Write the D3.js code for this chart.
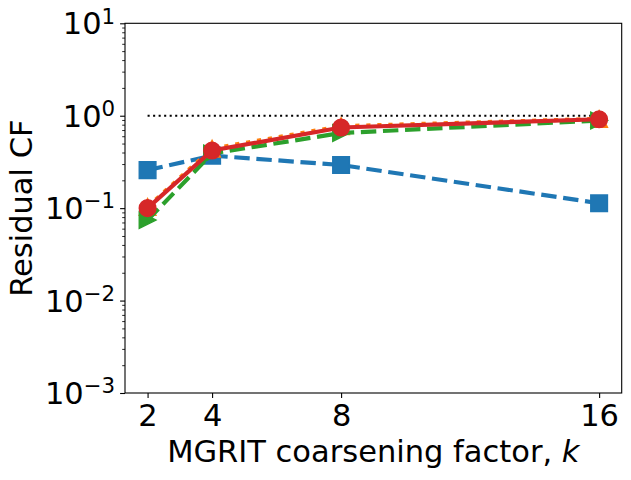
<!DOCTYPE html>
<html lang="en">
<head>
<meta charset="UTF-8">
<script src="https://d3js.org/d3.v7.min.js"></script>
<title>Residual CF</title>
<style>
  body { margin: 0; background: #fff; }
  text { font-family: "DejaVu Sans", sans-serif; fill: #000; }
</style>
</head>
<body>
<div id="canvas"></div>
<script>
// coarsening factors on the x axis
const kValues = [2, 4, 8, 16]
// residual convergence factors, one array per series
const blueCF   = [0.258, 0.37, 0.293, 0.113]
const orangeCF = [0.103, 0.44, 0.77, 0.925]
const greenCF  = [0.0743, 0.39, 0.65, 0.887]
const redCF    = [0.1, 0.42, 0.745, 0.915]
const refLine  = [1, 1]
const refK     = [2, 16]
// tick labels
const xTicks = [2, 4, 8, 16]
const yExponents = [-3, -2, -1, 0, 1]

const W = 631, H = 480
const plot = {left: 125, right: 621.7, top: 23.3, bottom: 393}
const fontPx = 30.5
const lw = 4.17   // 3pt
const ms = 16.7   // 12pt marker

const svg = d3.select("#canvas").append("svg").attr("width", W).attr("height", H)

const x = d3.scaleLinear().domain([1.3, 16.7]).range([plot.left, plot.right])
const y = d3.scaleLog().domain([1e-3, 1e1]).range([plot.bottom, plot.top])

const clip = svg.append("clipPath").attr("id", "clip")
  .append("rect")
  .attr("x", plot.left).attr("y", plot.top)
  .attr("width", plot.right - plot.left).attr("height", plot.bottom - plot.top)

const g = svg.append("g").attr("clip-path", "url(#clip)")

const line = d3.line().x(d => x(d[0])).y(d => y(d[1]))

// reference line at 1
g.append("path")
  .datum(refK.map((k, i) => [k, refLine[i]]))
  .attr("d", line)
  .attr("fill", "none").attr("stroke", "#000")
  .attr("stroke-width", 2.08).attr("stroke-dasharray", "2.08 3.44")

const markerPath = {
  square: d3.symbol().type(d3.symbolSquare).size(ms * ms),
  circle: d3.symbol().type(d3.symbolCircle).size(Math.PI * ms * ms / 4),
  triUp: () => `M0,${-ms/2}L${ms/2},${ms/2}L${-ms/2},${ms/2}Z`,
  triRight: () => `M${ms/2},0L${-ms/2},${ms/2}L${-ms/2},${-ms/2}Z`
}

const series = [
  {vals: blueCF,   color: "#1f77b4", dash: `${3.7*lw} ${1.6*lw}`, marker: "square"},
  {vals: orangeCF, color: "#ff7f0e", dash: `${lw} ${1.65*lw}`,    marker: "triUp"},
  {vals: greenCF,  color: "#2ca02c", dash: `${3.7*lw} ${1.6*lw}`, marker: "triRight"},
  {vals: redCF,    color: "#d62728", dash: null,                  marker: "circle"}
]

series.forEach(s => {
  const pts = kValues.map((k, i) => [k, s.vals[i]])
  g.append("path")
    .datum(pts)
    .attr("d", line)
    .attr("fill", "none")
    .attr("stroke", s.color)
    .attr("stroke-width", lw)
    .attr("stroke-dasharray", s.dash)
  g.selectAll(null)
    .data(pts)
    .enter().append("path")
    .attr("transform", d => `translate(${x(d[0])},${y(d[1])})`)
    .attr("d", markerPath[s.marker])
    .attr("fill", s.color)
    .attr("stroke", s.color)
    .attr("stroke-width", 1.39)
})

// x axis
const xAxis = d3.axisBottom(x).tickValues(xTicks).tickSize(4.9).tickPadding(4.9)
const gx = svg.append("g").attr("transform", `translate(0,${plot.bottom})`).call(xAxis)
gx.select(".domain").remove()
gx.selectAll(".tick line").attr("stroke-width", 1.1)
gx.selectAll(".tick text")
  .attr("font-size", fontPx).attr("font-family", "DejaVu Sans")
  .attr("dy", null).attr("y", 33)

// y axis: minor ticks
const minor = []
for (let e = -3; e < 1; e++) for (let m = 2; m <= 9; m++) minor.push(m * Math.pow(10, e))
const gyMinor = svg.append("g").attr("transform", `translate(${plot.left},0)`)
  .call(d3.axisLeft(y).tickValues(minor).tickSize(2.8).tickFormat(""))
gyMinor.select(".domain").remove()
gyMinor.selectAll(".tick line").attr("stroke-width", 0.84)

// y axis: major ticks with 10^n labels
const gy = svg.append("g").attr("transform", `translate(${plot.left},0)`)
  .call(d3.axisLeft(y).tickValues(yExponents.map(e => Math.pow(10, e))).tickSize(4.9).tickFormat(""))
gy.select(".domain").remove()
gy.selectAll(".tick line").attr("stroke-width", 1.1)
gy.selectAll(".tick").each(function(d) {
  const e = Math.round(Math.log10(d))
  const t = d3.select(this).append("text")
    .attr("x", -9.8).attr("y", 10.5)
    .attr("text-anchor", "end")
    .attr("font-size", fontPx)
  t.append("tspan").text("10")
  t.append("tspan")
    .attr("font-size", fontPx * 0.7)
    .attr("dy", -10.7)
    .text(e < 0 ? "\u2212" + (-e) : String(e))
})

// frame
svg.append("rect")
  .attr("x", plot.left).attr("y", plot.top)
  .attr("width", plot.right - plot.left).attr("height", plot.bottom - plot.top)
  .attr("fill", "none").attr("stroke", "#000").attr("stroke-width", 1.1)

// axis labels
const xl = svg.append("text")
  .attr("x", (plot.left + plot.right) / 2).attr("y", 461.7)
  .attr("text-anchor", "middle").attr("font-size", fontPx)
xl.append("tspan").text("MGRIT coarsening factor, ")
xl.append("tspan").attr("font-style", "italic").text("k")

svg.append("text")
  .attr("transform", `translate(32,${(plot.top + plot.bottom) / 2}) rotate(-90)`)
  .attr("text-anchor", "middle").attr("font-size", fontPx)
  .text("Residual CF")
</script>
</body>
</html>
